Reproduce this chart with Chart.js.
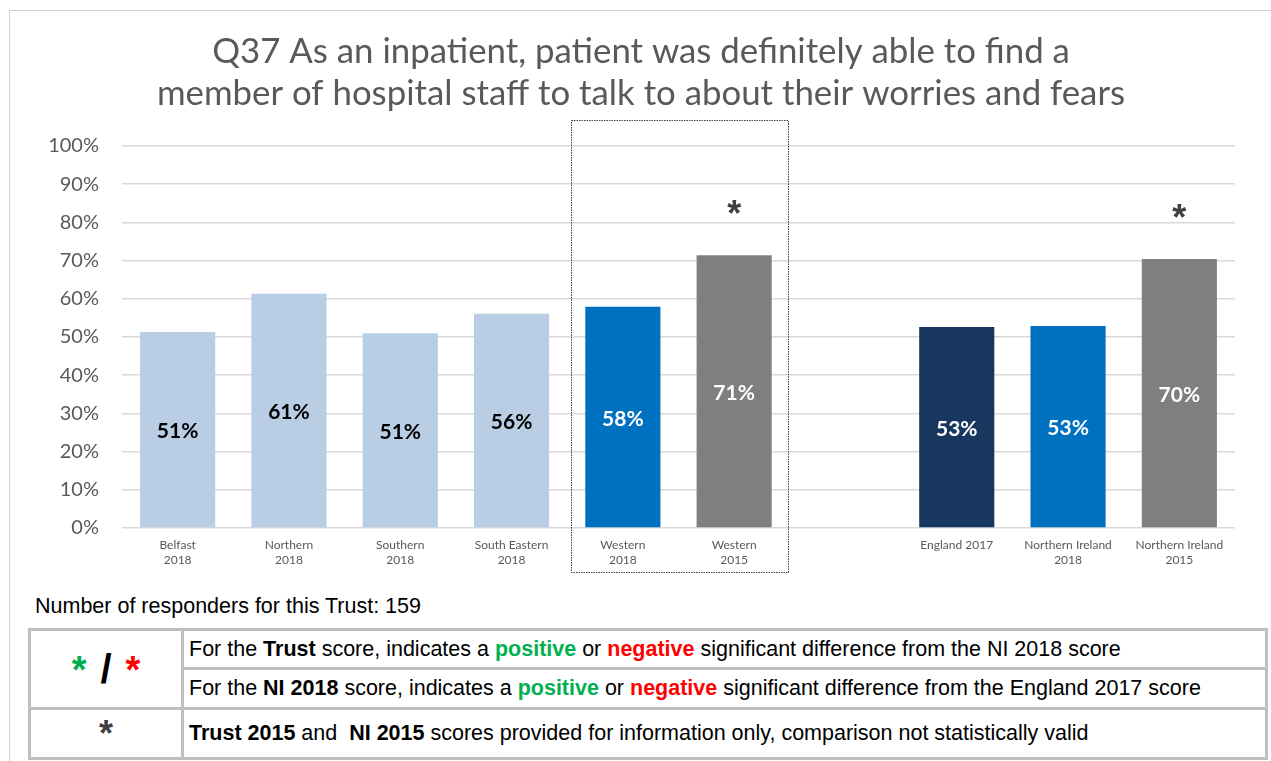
<!DOCTYPE html>
<html>
<head>
<meta charset="utf-8">
<script src="https://cdn.jsdelivr.net/npm/chart.js@4"></script>
<style>
  body { margin: 0; background: #fff; font-family: "Liberation Sans", Arial, sans-serif; }
  #frameTop { position: absolute; left: 9px; top: 10px; width: 1262px; height: 1px; background: #d0d0d0; }
  #frameLeft { position: absolute; left: 9px; top: 10px; width: 1px; height: 751px; background: #d0d0d0; }
  #wrap { position: absolute; left: 0; top: 0; width: 1271px; height: 585px; }
  #resp { position: absolute; left: 35px; top: 594px; font-size: 21.5px; line-height: 25px; color: #000; }
  table { position: absolute; left: 28px; top: 628px; width: 1240px; border-collapse: collapse; }
  td { border: 3px solid #bfbfbf; font-size: 21.5px; color: #000; padding: 0 0 0 5px; white-space: nowrap; }
  td.sym { width: 150px; text-align: center; font-weight: bold; padding: 0; }
  .g { color: #00b050; font-weight: bold; }
  .r { color: #ff0000; font-weight: bold; }
  .sl { display: inline-block; margin: 0 14px; font-size: 40px; }
</style>
</head>
<body>
<div id="frameTop"></div>
<div id="frameLeft"></div>
<div id="wrap"><canvas id="myChart"></canvas></div>
<div id="resp">Number of responders for this Trust: 159</div>
<table>
  <tr style="height:39px">
    <td class="sym" rowspan="2" style="font-size:38px"><span class="g">*</span><span class="sl">/</span><span class="r">*</span></td>
    <td>For the <b>Trust</b> score, indicates a <span class="g">positive</span> or <span class="r">negative</span> significant difference from the NI 2018 score</td>
  </tr>
  <tr style="height:40px">
    <td>For the <b>NI 2018</b> score, indicates a <span class="g">positive</span> or <span class="r">negative</span> significant difference from the England 2017 score</td>
  </tr>
  <tr style="height:50px">
    <td class="sym" style="font-size:36px;color:#404040">*</td>
    <td><b>Trust 2015</b> and &nbsp;<b>NI 2015</b> scores provided for information only, comparison not statistically valid</td>
  </tr>
</table>
<script>
const categories = [
  ['Belfast', '2018'], ['Northern', '2018'], ['Southern', '2018'], ['South Eastern', '2018'],
  ['Western', '2018'], ['Western', '2015'], '',
  ['England 2017'], ['Northern Ireland', '2018'], ['Northern Ireland', '2015']
];
const scores = [51.3, 61.3, 51.0, 56.1, 57.9, 71.4, null, 52.6, 52.9, 70.4];
const barColours = ['#b9cde5', '#b9cde5', '#b9cde5', '#b9cde5', '#0070c0', '#7f7f7f', '#fff', '#17375e', '#0070c0', '#7f7f7f'];
const labelColours = ['#000', '#000', '#000', '#000', '#fff', '#fff', '#fff', '#fff', '#fff', '#fff'];
const markers = ['', '', '', '', '', '*', '', '', '', '*'];
const titleLines = ['Q37 As an inpatient, patient was definitely able to find a',
                    'member of hospital staff to talk to about their worries and fears'];

// values inside bars, asterisks above, dotted box round the Western pair
const extras = {
  id: 'extras',
  afterDatasetsDraw(chart) {
    const ctx = chart.ctx;
    const meta = chart.getDatasetMeta(0);
    ctx.save();
    ctx.textAlign = 'center';
    ctx.textBaseline = 'middle';
    meta.data.forEach((bar, i) => {
      if (scores[i] == null) return;
      ctx.font = 'bold 21px Lato';
      ctx.fillStyle = labelColours[i];
      ctx.fillText(Math.round(scores[i]) + '%', bar.x, (bar.y + bar.base) / 2 + 2);
      if (markers[i]) {
        ctx.font = 'bold 36px "Liberation Sans"';
        ctx.fillStyle = '#404040';
        ctx.fillText(markers[i], bar.x, bar.y - 39);
      }
    });
    const xs = chart.scales.x, a = chart.chartArea;
    const left = Math.round(xs.getPixelForValue(4) - 52) + 0.5;
    const right = Math.round(xs.getPixelForValue(5) + 54) + 0.5;
    const top = Math.round(a.top - 26) + 0.5, bottom = Math.round(a.bottom + 44) + 0.5;
    ctx.strokeStyle = '#404040';
    ctx.lineWidth = 1;
    ctx.setLineDash([1.5, 1]);
    ctx.strokeRect(left, top, right - left, bottom - top);
    ctx.restore();
  }
};

const ctx = document.getElementById('myChart');
new Chart(ctx, {
  type: 'bar',
  data: {
    labels: categories,
    datasets: [{
      data: scores,
      backgroundColor: barColours,
      barPercentage: 1,
      categoryPercentage: 0.675
    }]
  },
  options: {
    responsive: true,
    maintainAspectRatio: false,
    animation: false,
    layout: { padding: { left: 47, right: 36, top: 0, bottom: 11 } },
    plugins: {
      legend: { display: false },
      tooltip: { enabled: false },
      title: {
        display: true,
        text: titleLines,
        color: '#595959',
        font: { family: 'Lato', size: 34.8, weight: 'normal', lineHeight: 1.207 },
        padding: { top: 31, bottom: 31 }
      }
    },
    scales: {
      x: {
        grid: { display: false, drawTicks: false },
        border: { display: false },
        ticks: {
          color: '#595959',
          font: { family: 'Lato', size: 12, lineHeight: 1.25 },
          padding: 10,
          maxRotation: 0,
          autoSkip: false
        },
        afterFit(scale) { scale.height = 46; }
      },
      y: {
        min: 0,
        max: 100,
        grid: { color: '#d9d9d9', lineWidth: 1.5, drawTicks: false },
        border: { display: false },
        ticks: {
          stepSize: 10,
          color: '#595959',
          padding: 23,
          font: { family: 'Lato', size: 20 },
          callback: v => v + '%'
        },
        afterFit(scale) { scale.width = 75; }
      }
    }
  },
  plugins: [extras]
});
</script>
</body>
</html>
